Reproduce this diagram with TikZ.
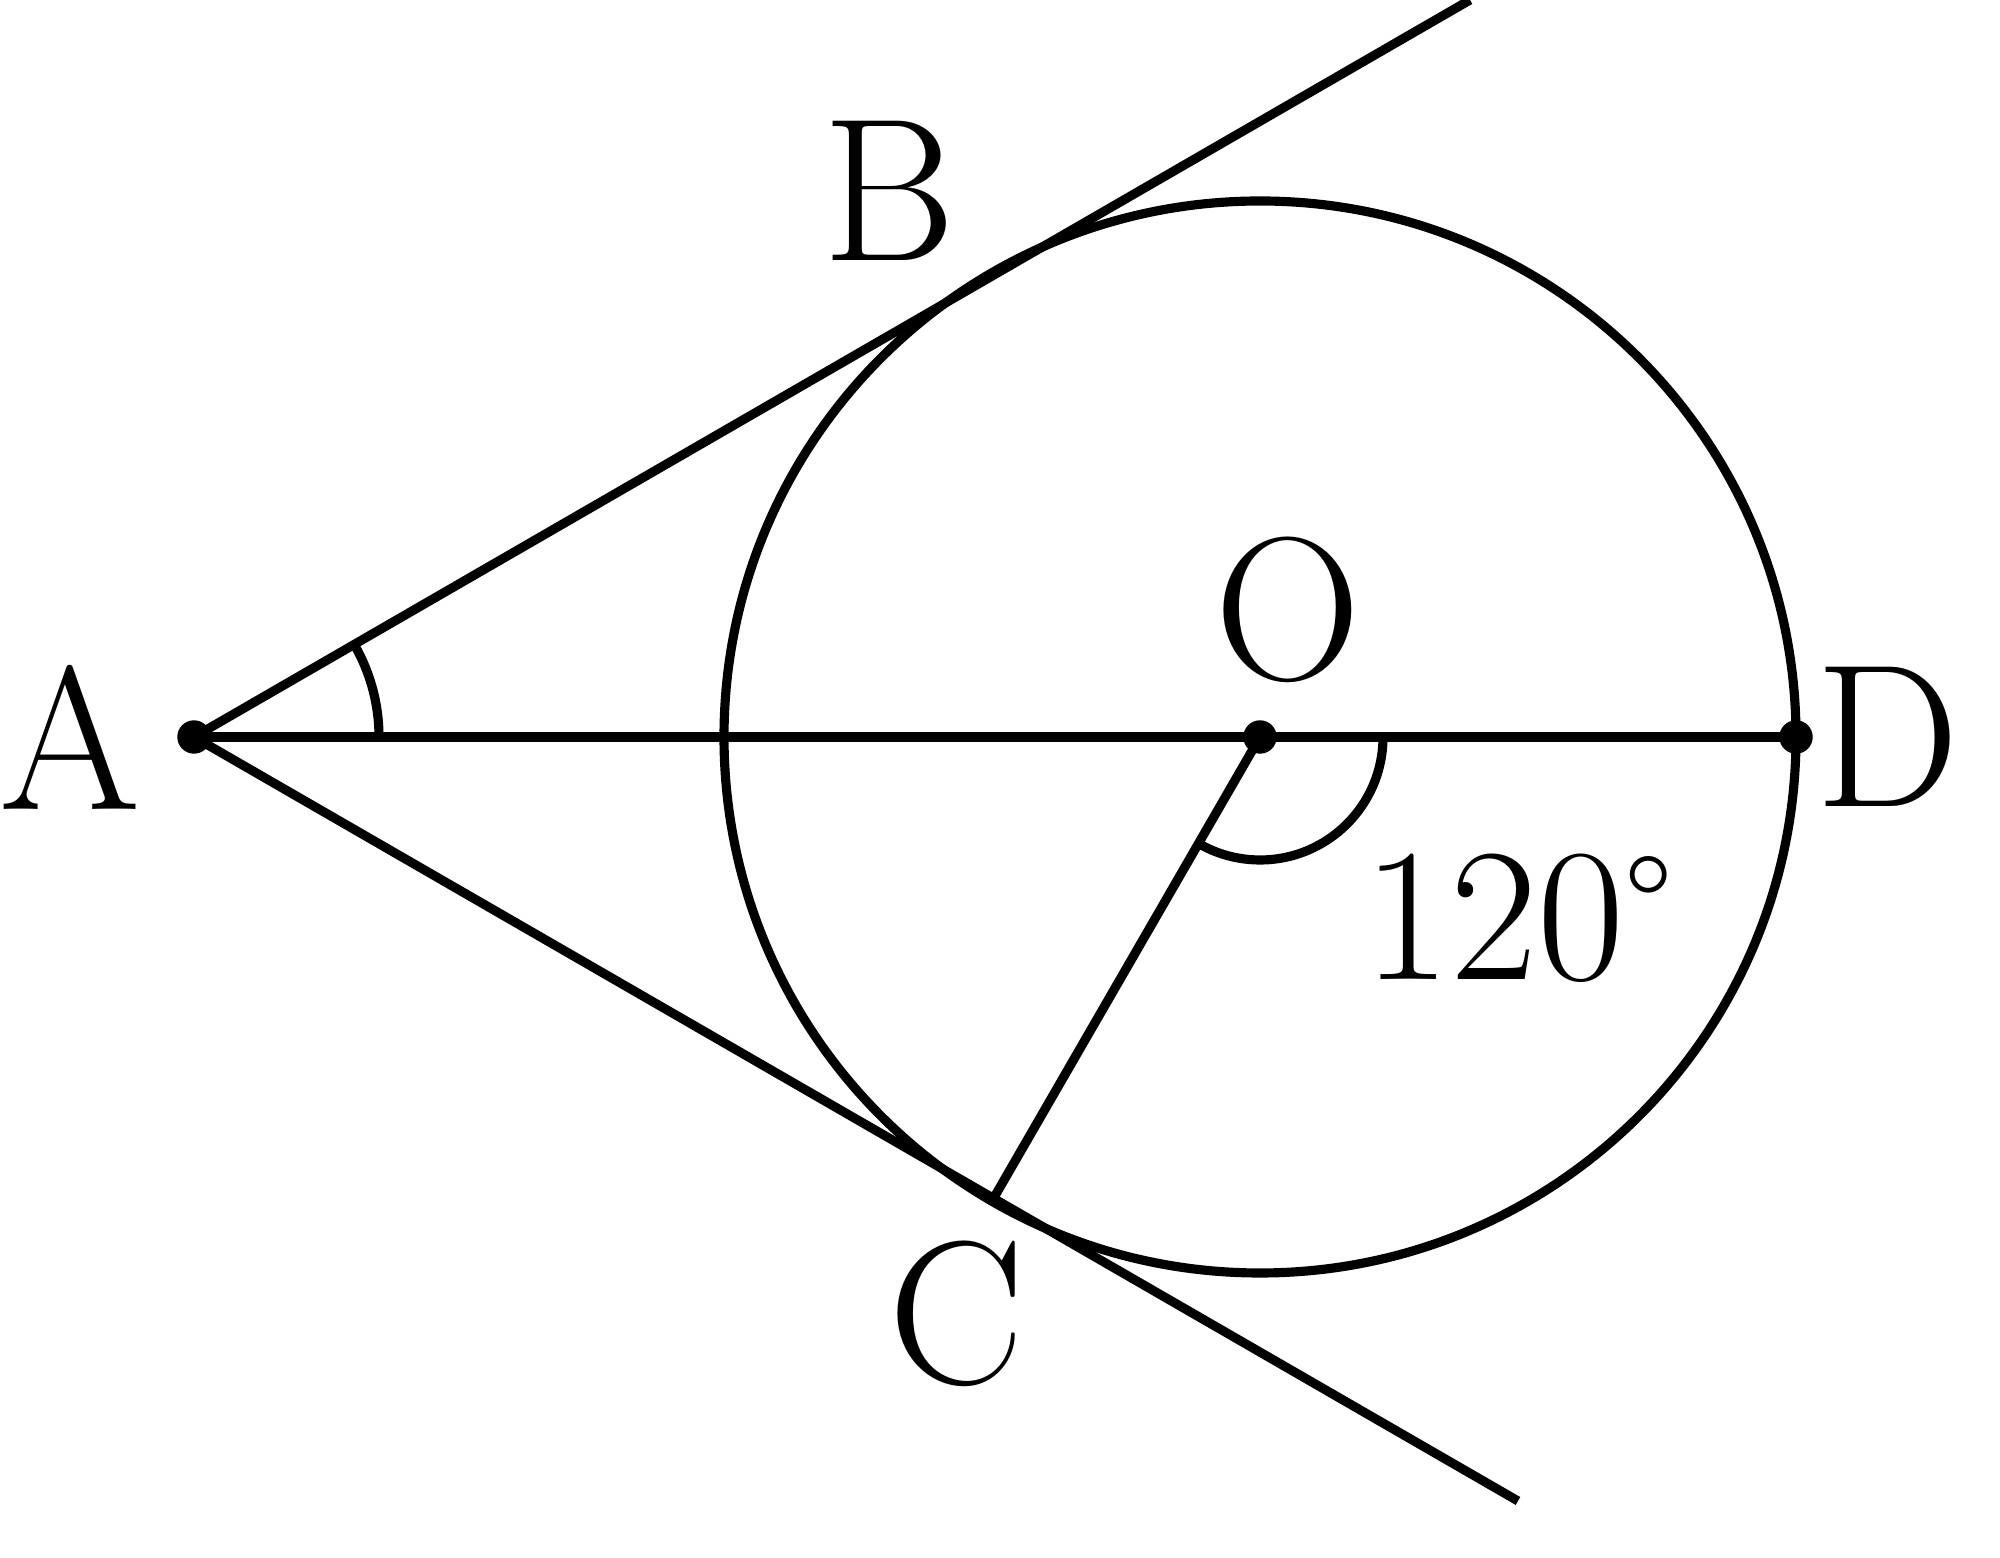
\documentclass[tikz,border=0pt]{standalone}
\usetikzlibrary{calc}
\begin{document}
\begin{tikzpicture}[x=0.01cm,y=0.01cm,
  geo/.style={line width=2.6pt,black},
  pt/.style={circle,fill=black,inner sep=0pt,minimum size=9.5pt},
  lbl/.style={font=\fontsize{58}{60}\selectfont,inner sep=0pt},
  deg/.style={font=\fontsize{54}{56}\selectfont,inner sep=0pt}]
\useasboundingbox (0,0) rectangle (2000,1558);
\coordinate (A) at (194,821);
\coordinate (O) at (1260,821);
\coordinate (D) at (1796,821);
\coordinate (B) at (992,1285);
\coordinate (C) at (992,357);
\coordinate (Bend) at (1470,1558);
\coordinate (Cend) at (1518,57);
% circle
\draw[geo] (O) circle (536);
% lines
\draw[geo] (A) -- (Bend);
\draw[geo] (A) -- (Cend);
\draw[geo] (A) -- (D);
\draw[geo] (O) -- (C);
% angle arcs
\draw[geo] ($(A)+(185,0)$) arc[start angle=0,end angle=30,radius=185];
\draw[geo] ($(O)+(123,0)$) arc[start angle=0,end angle=-120,radius=123];
% points
\node[pt] (pA) at (A) {};
\node[pt] (pO) at (O) {};
\node[pt] (pD) at (D) {};
% labels
\node[lbl] (lA) at (70,821) {A};
\node[lbl] (lB) at (889,1367) {B};
\node[lbl] (lO) at (1288,948) {O};
\node[lbl] (lD) at (1888,821) {D};
\node[lbl] (lC) at (957,244) {C};
\node[deg] (l120) at (1518,640) {120\raisebox{0.14em}{\fontsize{40}{40}\selectfont\textdegree}};
\end{tikzpicture}
\end{document}
